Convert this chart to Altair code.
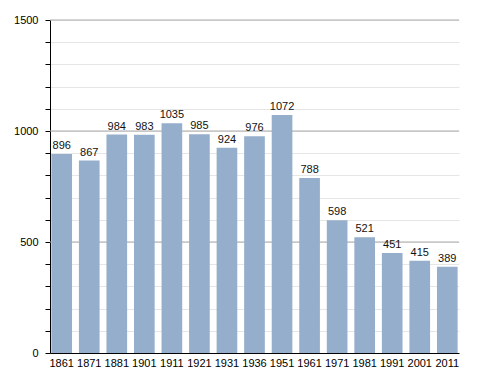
import altair as alt
import pandas as pd

years = ["1861", "1871", "1881", "1901", "1911", "1921", "1931", "1936", "1951", "1961", "1971", "1981", "1991", "2001", "2011"]
population = [896, 867, 984, 983, 1035, 985, 924, 976, 1072, 788, 598, 521, 451, 415, 389]
major_ticks = [500, 1000, 1500]
minor_ticks = list(range(0, 1501, 100))

df = pd.DataFrame({"year": years, "pop": population})
df_major = pd.DataFrame({"v": major_ticks})

FONT = "Liberation Sans"

y_scale = alt.Scale(domain=[0, 1500], nice=False)
x_scale = alt.Scale(paddingInner=0.25, paddingOuter=0.05)
x_axis = alt.Axis(ticks=False, labelAngle=0, labelFont=FONT, labelFontSize=11,
                  labelColor="#000", domainColor="#000", labelPadding=4)

y_axis = alt.Axis(values=minor_ticks, grid=True, gridColor="#e6e6e6",
                  labelExpr="datum.value % 500 == 0 ? datum.label : ''",
                  labelOverlap=False, labelBound=False, labelFlush=False,
                  labelFont=FONT, labelFontSize=11, labelColor="#000",
                  tickColor="#000", tickSize=5, labelPadding=7,
                  domainColor="#000", format="d")

major = alt.Chart(df_major).mark_rule(color="#aaaaaa", strokeWidth=1).encode(
    y=alt.Y("v:Q", scale=y_scale, title=None, axis=y_axis),
)

bars = alt.Chart(df).mark_bar(color="#94aecb").encode(
    x=alt.X("year:N", sort=years, title=None, scale=x_scale, axis=x_axis),
    y=alt.Y("pop:Q", scale=y_scale, title=None, axis=y_axis),
)

labels = alt.Chart(df).mark_text(baseline="bottom", dy=-3, font=FONT, fontSize=11, color="#111").encode(
    x=alt.X("year:N", sort=years, title=None, scale=x_scale, axis=x_axis),
    y=alt.Y("pop:Q", scale=y_scale, title=None, axis=y_axis),
    text=alt.Text("pop:Q"),
)

chart = alt.layer(major, bars, labels).properties(
    width=409, height=333,
    autosize=alt.AutoSizeParams(type="none"),
    padding={"left": 42, "top": 12, "right": 20, "bottom": 20},
).configure(background="white").configure_view(strokeWidth=0, stroke="transparent")

chart.save("out.html", embed_options={"renderer": "svg", "actions": False})
